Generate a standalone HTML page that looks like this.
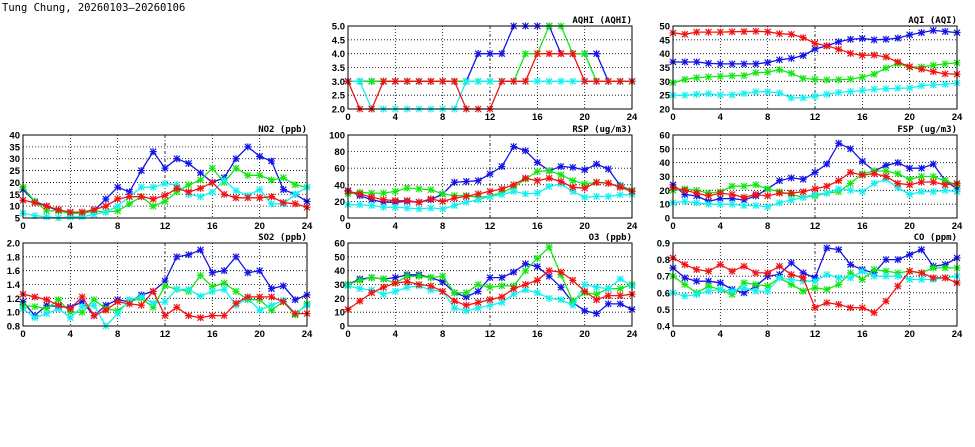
<!DOCTYPE html>
<html><head><meta charset="utf-8"><style>
body{margin:0;background:#fff;width:975px;height:447px;overflow:hidden}
svg{display:block}
text{font-family:"Liberation Sans",sans-serif;font-weight:bold;font-size:9.5px;fill:#000}
</style></head><body>
<svg id="s" width="975" height="447" xmlns="http://www.w3.org/2000/svg">
<text x="2" y="11" style="font-family:'DejaVu Sans Mono','Liberation Mono',monospace;font-size:10.5px;font-weight:normal">Tung Chung, 20260103–20260106</text>
</svg>
<script>
const C={b:"#1414e6",g:"#14e614",c:"#14f0f0",r:"#f01414"};
const P=[
{x:348,y:26,t:"AQHI (AQHI)",min:2,max:5,step:0.5,f:1,d:{
b:[3,3,3,3,3,3,3,3,3,3,3,4,4,4,5,5,5,5,4,4,4,4,3,3,3],
g:[3,3,3,3,3,3,3,3,3,3,3,3,3,3,3,4,4,5,5,4,4,3,3,3,3],
c:[3,3,2,2,2,2,2,2,2,2,3,3,3,3,3,3,3,3,3,3,3,3,3,3,3],
r:[3,2,2,3,3,3,3,3,3,3,2,2,2,3,3,3,4,4,4,4,3,3,3,3,3]}},
{x:673,y:26,t:"AQI (AQI)",min:20,max:50,step:5,f:0,d:{
b:[37,37,37,36.5,36.3,36.3,36.3,36.3,36.8,37.8,38.3,39.3,41.7,42.8,44.3,45.2,45.5,45,45.2,45.6,46.8,47.6,48.4,48,47.6],
g:[29.5,30.7,31.3,31.6,31.8,32,32.1,33.1,33.3,34.2,32.9,31.1,30.7,30.5,30.6,30.8,31.5,32.6,34.8,36.4,35.1,35.2,35.8,36.3,36.7],
c:[25,25,25.3,25.5,25.1,25.1,25.6,26.2,26.2,25.8,24,24,24.6,25.3,26,26.3,26.7,27.1,27.3,27.5,27.6,28.4,28.7,28.9,29.4],
r:[47.5,47,47.8,47.8,47.8,47.9,48,48.1,47.9,47.2,47,45.8,43.7,42.8,41.6,40.1,39.4,39.5,38.8,37,35.3,34.4,33.5,32.7,32.6]}},
{x:23,y:135,t:"NO2 (ppb)",min:5,max:40,step:5,f:0,d:{
b:[17,12,10,8,7,7,8,13,18,16,25,33,26,30,28,24,20,22,30,35,31,29,17,15,12],
g:[18,12,8,8,7,7,8,7.5,8,11,14,10,12,16,19,21,26,20,26,23,23,21,22,19,18],
c:[7,6,5.5,5,5.5,5.5,6.5,7.5,10,14,18,18,19.5,19,15,14,16,21,16.5,14.5,17,11,11,15,18],
r:[12.5,11.5,10,8.5,7.5,7.5,8.5,10,13,14,14,13,14.5,17.5,16,17.5,20,15,13.5,13.5,13.5,14,11.5,11,9.5]}},
{x:348,y:135,t:"RSP (ug/m3)",min:0,max:100,step:20,f:0,d:{
b:[33,27,22,19,19,20,19,22,29,43,44,45,53,62,86,81,67,57,62,61,58,65,59,39,33],
g:[29,31,30,30,32,36,35,34,29,27,27,25,26,31,37,47,56,57,52,45,41,43,42,38,33],
c:[16,16,15,13,13,12,11,12,11,15,19,22,26,28,32,29,30,38,41,32,25,26,26,28,28],
r:[32,29,25,22,21,21,19,23,20,24,26,29,32,35,40,48,45,48,44,37,36,43,42,37,32]}},
{x:673,y:135,t:"FSP (ug/m3)",min:0,max:60,step:10,f:0,d:{
b:[24,17,16,12,14,14,13,16,21,27,29,28,33,39,54,50,41,34,38,40,36,36,39,27,21],
g:[20,21,20,18,19,23,23,24,21,19,17,15,16,18,19,25,32,34,34,32,28,30,30,27,24],
c:[11,12,11,10,10,10,9,9,8,11,13,15,17,18,21,20,19,25,28,22,17,19,19,20,19],
r:[22,20,18,16,18,17,15,17,16,18,18,19,21,23,27,33,31,32,30,25,24,26,26,24,25]}},
{x:23,y:243,t:"SO2 (ppb)",min:0.8,max:2.0,step:0.2,f:1,d:{
b:[1.15,0.95,1.1,1.08,1.07,1.15,0.95,1.1,1.18,1.15,1.25,1.3,1.45,1.8,1.83,1.9,1.57,1.6,1.8,1.57,1.6,1.34,1.38,1.18,1.25],
g:[1.1,1.08,1.05,1.18,1.0,1.0,1.18,1.05,1.02,1.15,1.2,1.07,1.38,1.33,1.3,1.53,1.37,1.42,1.3,1.18,1.18,1.03,1.15,0.96,1.12],
c:[1.05,0.92,0.98,1.05,0.92,1.08,1.1,0.8,0.98,1.18,1.22,1.13,1.15,1.33,1.33,1.23,1.3,1.33,1.1,1.2,1.03,1.1,1.17,0.98,1.1],
r:[1.26,1.22,1.18,1.1,1.05,1.22,0.95,1.03,1.15,1.12,1.1,1.3,0.95,1.07,0.95,0.92,0.95,0.95,1.13,1.22,1.22,1.22,1.15,0.98,0.98]}},
{x:348,y:243,t:"O3 (ppb)",min:0,max:60,step:10,f:0,d:{
b:[30,34,35,34,35,37,37,35,32,24,21,25,35,35,39,45,43,36,28,17,11,9,16,16,12],
g:[30,33,35,34,31,36,36,35,36,24,24,30,28,29,29,40,49,57,37,18,24,23,27,27,30],
c:[29,27,26,23,25,28,29,26,25,13,11,13,15,17,23,26,24,20,19,15,30,28,27,34,29],
r:[12,18,24,28,31,32,30,29,25,18,15,17,19,21,27,30,33,40,39,33,25,19,22,22,23]}},
{x:673,y:243,t:"CO (ppm)",min:0.4,max:0.9,step:0.1,f:1,d:{
b:[.75,.69,.67,.67,.66,.62,.60,.64,.70,.71,.78,.72,.69,.87,.86,.77,.74,.72,.80,.80,.83,.86,.76,.77,.81],
g:[.70,.65,.60,.64,.62,.59,.66,.65,.64,.69,.65,.61,.63,.62,.65,.72,.68,.74,.73,.72,.73,.72,.75,.75,.75],
c:[.60,.58,.59,.61,.62,.61,.63,.61,.61,.69,.68,.67,.67,.71,.69,.69,.73,.70,.70,.70,.68,.68,.68,.69,.70],
r:[.81,.77,.74,.73,.77,.73,.76,.72,.72,.76,.71,.69,.51,.54,.53,.51,.51,.48,.55,.64,.73,.72,.69,.69,.66]}}
];
const W=284,H=83;let s="";
for(const p of P){
 const X=h=>p.x+h*W/24,Y=v=>p.y+H-(v-p.min)/(p.max-p.min)*H;
 const n=Math.round((p.max-p.min)/p.step);
 for(let i=0;i<=n;i++){const v=p.min+i*p.step,y=Y(v);
  if(i>0&&i<n)s+=`<line x1="${p.x}" x2="${p.x+W}" y1="${y}" y2="${y}" stroke="#000" stroke-width="0.8" stroke-dasharray="1,2"/>`;
  s+=`<text x="${p.x-3}" y="${y+3.5}" text-anchor="end">${v.toFixed(p.f)}</text>`;}
 for(let h=0;h<=24;h+=4){const x=X(h);
  if(h>0&&h<24)s+=`<line x1="${x}" x2="${x}" y1="${p.y}" y2="${p.y+H}" stroke="#000" stroke-width="0.8" stroke-dasharray="${h==12?'3,2,1,2':'1,2'}"/>`;
  s+=`<text x="${x}" y="${p.y+H+11}" text-anchor="middle">${h}</text>`;}
 s+=`<text x="${p.x+W}" y="${p.y-3}" text-anchor="end" style="font-family:'DejaVu Sans Mono','Liberation Mono',monospace;font-size:9px">${p.t}</text>`;
 s+=`<clipPath id="c${p.x}_${p.y}"><rect x="${p.x-4}" y="${p.y-4}" width="${W+8}" height="${H+8}"/></clipPath><g clip-path="url(#c${p.x}_${p.y})">`;
 for(const k of ["b","g","c","r"]){const d=p.d[k];
  s+=`<polyline fill="none" stroke="${C[k]}" stroke-width="1.3" points="${d.map((v,i)=>X(i).toFixed(1)+","+Y(v).toFixed(1)).join(" ")}"/>`;
  let m="";d.forEach((v,i)=>{const x=X(i),y=Y(v);m+=`M${x-3},${y-3}L${x+3},${y+3}M${x-3},${y+3}L${x+3},${y-3}M${x-3.5},${y}H${x+3.5}M${x},${y-3.5}V${y+3.5}`;});
  s+=`<path d="${m}" stroke="${C[k]}" stroke-width="1.2" fill="none"/>`;}
 s+=`</g><rect x="${p.x}" y="${p.y}" width="${W}" height="${H}" fill="none" stroke="#000" stroke-width="1"/>`;
}
document.getElementById("s").insertAdjacentHTML("beforeend",s);
</script>
</body></html>
